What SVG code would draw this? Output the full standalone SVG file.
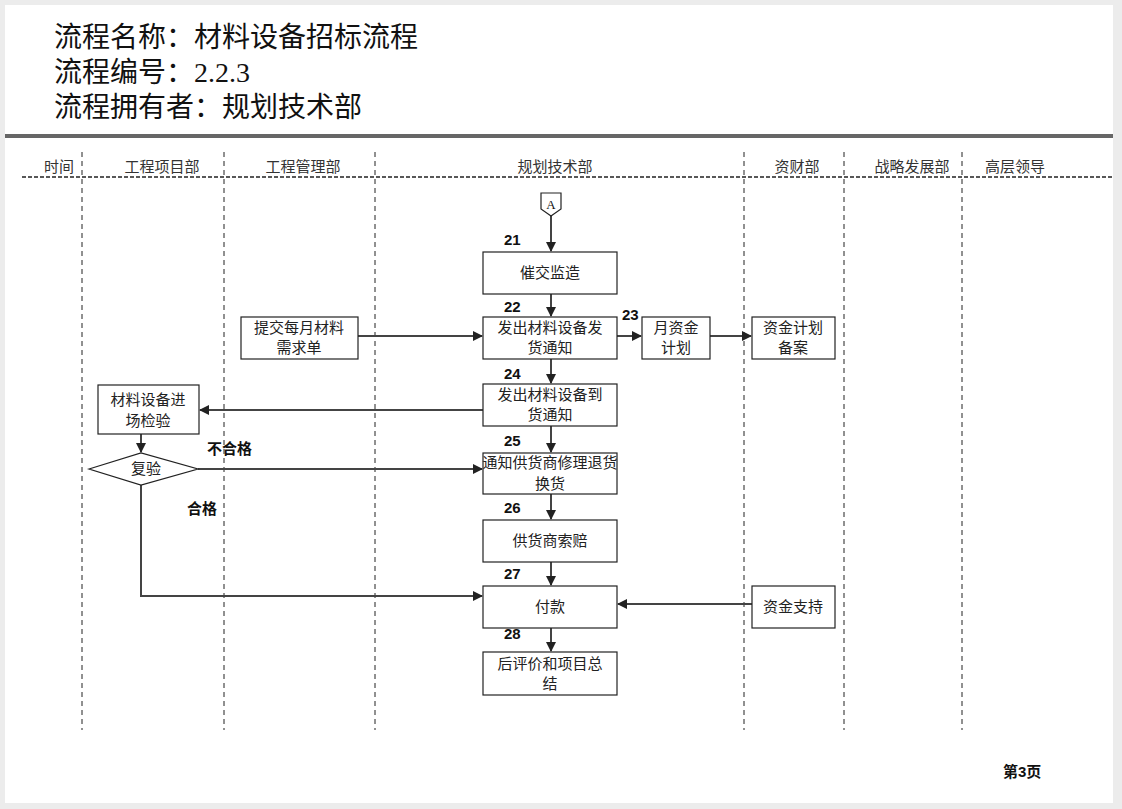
<svg xmlns="http://www.w3.org/2000/svg" width="1122" height="809" viewBox="0 0 1122 809">
<style>
.t{font-family:"Liberation Serif","Noto Sans CJK SC",serif;fill:#111}
.h{font-size:28px}
.b{font-family:"Noto Sans CJK SC",sans-serif;font-size:15px;fill:#222;text-anchor:middle}
.lane{font-family:"Noto Sans CJK SC",sans-serif;font-size:15px;fill:#333;text-anchor:middle}
.n{font-family:"Liberation Sans","Noto Sans CJK SC",sans-serif;font-size:15px;font-weight:bold;fill:#111}
.box{fill:#fff;stroke:#222;stroke-width:1.2}
.v{stroke:#222;stroke-width:1;stroke-dasharray:5,4}
.c{stroke:#444;stroke-width:2;fill:none}
</style>
<defs><marker id="ar" viewBox="0 0 10 10" refX="9" refY="5" markerWidth="5" markerHeight="5" orient="auto"><path d="M0,0L10,5L0,10z" fill="#222"/></marker></defs>
<rect width="1122" height="809" fill="#ececec"/>
<rect x="5" y="5" width="1108" height="798" fill="#fff"/>
<text class="t h" x="54" y="47">流程名称：材料设备招标流程</text>
<text class="t h" x="54" y="82">流程编号：2.2.3</text>
<text class="t h" x="54" y="117">流程拥有者：规划技术部</text>
<rect x="5" y="134" width="1108" height="4" fill="#666"/>
<g>
<text class="lane" x="59" y="172">时间</text>
<text class="lane" x="162" y="172">工程项目部</text>
<text class="lane" x="303" y="172">工程管理部</text>
<text class="lane" x="555" y="172">规划技术部</text>
<text class="lane" x="797" y="172">资财部</text>
<text class="lane" x="912" y="172">战略发展部</text>
<text class="lane" x="1015" y="172">高层领导</text>
<line x1="22" y1="177" x2="1113" y2="177" stroke="#222" stroke-width="1.5" stroke-dasharray="4,2"/>
<line class="v" x1="82" y1="152" x2="82" y2="730"/>
<line class="v" x1="224" y1="152" x2="224" y2="730"/>
<line class="v" x1="375" y1="152" x2="375" y2="730"/>
<line class="v" x1="744" y1="152" x2="744" y2="730"/>
<line class="v" x1="844" y1="152" x2="844" y2="730"/>
<line class="v" x1="962" y1="152" x2="962" y2="730"/>
</g>
<g id="connectors">
<line class="c" x1="551" y1="215" x2="551" y2="251" marker-end="url(#ar)"/>
<line class="c" x1="551" y1="294" x2="551" y2="316" marker-end="url(#ar)"/>
<line class="c" x1="358" y1="336" x2="482" y2="336" marker-end="url(#ar)"/>
<line class="c" x1="617" y1="336" x2="641" y2="336" marker-end="url(#ar)"/>
<line class="c" x1="710" y1="336" x2="751" y2="336" marker-end="url(#ar)"/>
<line class="c" x1="551" y1="359" x2="551" y2="383" marker-end="url(#ar)"/>
<line class="c" x1="483" y1="410" x2="200" y2="410" marker-end="url(#ar)"/>
<line class="c" x1="551" y1="426" x2="551" y2="452" marker-end="url(#ar)"/>
<line class="c" x1="141" y1="434" x2="141" y2="452" marker-end="url(#ar)"/>
<line class="c" x1="198" y1="469" x2="482" y2="469" marker-end="url(#ar)"/>
<line class="c" x1="551" y1="494" x2="551" y2="519" marker-end="url(#ar)"/>
<line class="c" x1="551" y1="562" x2="551" y2="585" marker-end="url(#ar)"/>
<polyline class="c" points="141,485 141,596 482,596" marker-end="url(#ar)"/>
<line class="c" x1="752" y1="604" x2="618" y2="604" marker-end="url(#ar)"/>
<line class="c" x1="551" y1="628" x2="551" y2="651" marker-end="url(#ar)"/>
</g>
<g id="nA"><path d="M541,193H561V209L551,216L541,209Z" class="box"/><text class="t" x="551" y="209" font-size="13" text-anchor="middle">A</text></g>
<g id="n21"><rect class="box" x="483" y="252" width="134" height="42"/><text class="b" x="550" y="278">催交监造</text></g>
<g id="n22"><rect class="box" x="483" y="317" width="134" height="42"/><text class="b" x="550" y="333">发出材料设备发</text><text class="b" x="550" y="353">货通知</text></g>
<g id="nSubmit"><rect class="box" x="241" y="317" width="117" height="42"/><text class="b" x="299" y="333">提交每月材料</text><text class="b" x="299" y="353">需求单</text></g>
<g id="n23"><rect class="box" x="642" y="317" width="68" height="42"/><text class="b" x="676" y="333">月资金</text><text class="b" x="676" y="353">计划</text></g>
<g id="nRecord"><rect class="box" x="752" y="317" width="83" height="42"/><text class="b" x="793" y="333">资金计划</text><text class="b" x="793" y="353">备案</text></g>
<g id="n24"><rect class="box" x="483" y="384" width="134" height="42"/><text class="b" x="550" y="400">发出材料设备到</text><text class="b" x="550" y="420">货通知</text></g>
<g id="nCheck"><rect class="box" x="98" y="385" width="101" height="49"/><text class="b" x="148" y="405">材料设备进</text><text class="b" x="148" y="426">场检验</text></g>
<g id="nRe"><path class="box" d="M89,469L141,453L198,469L141,485Z"/><text class="b" x="146" y="474">复验</text></g>
<g id="n25"><rect class="box" x="483" y="453" width="134" height="41"/><text class="b" x="550" y="468" font-size="13">通知供货商修理退货</text><text class="b" x="550" y="489" font-size="13">换货</text></g>
<g id="n26"><rect class="box" x="483" y="520" width="134" height="42"/><text class="b" x="550" y="546">供货商索赔</text></g>
<g id="n27"><rect class="box" x="483" y="586" width="134" height="42"/><text class="b" x="550" y="612">付款</text></g>
<g id="nFund"><rect class="box" x="752" y="586" width="83" height="42"/><text class="b" x="793" y="612">资金支持</text></g>
<g id="n28"><rect class="box" x="483" y="652" width="134" height="43"/><text class="b" x="550" y="669">后评价和项目总</text><text class="b" x="550" y="689">结</text></g>
<g>
<text class="n" x="504" y="245">21</text>
<text class="n" x="504" y="312">22</text>
<text class="n" x="622" y="320">23</text>
<text class="n" x="504" y="379">24</text>
<text class="n" x="504" y="446">25</text>
<text class="n" x="504" y="513">26</text>
<text class="n" x="504" y="579">27</text>
<text class="n" x="504" y="639">28</text>
<text class="n" x="207" y="454">不合格</text>
<text class="n" x="187" y="514">合格</text>
<text class="n" x="1003" y="777">第3页</text>
</g>
</svg>
